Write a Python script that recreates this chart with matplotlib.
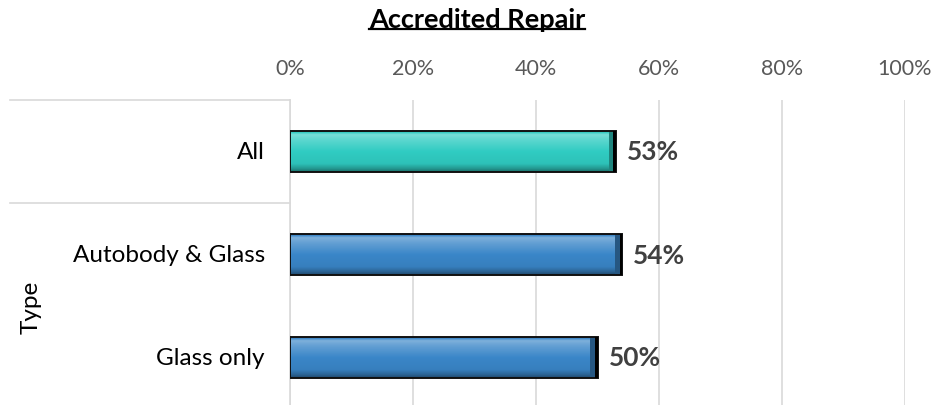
import numpy as np
import matplotlib
matplotlib.use("Agg")
import matplotlib.pyplot as plt
from matplotlib.colors import to_rgb
from matplotlib.lines import Line2D
from matplotlib.patches import Rectangle

plt.rcParams['font.family'] = ['Lato', 'DejaVu Sans']

# ---- data ----
categories = ["All", "Autobody & Glass", "Glass only"]
values = [0.53, 0.54, 0.50]
value_labels = ["53%", "54%", "50%"]
group_label = "Type"
title = "Accredited Repair"
xticks = [0, 0.2, 0.4, 0.6, 0.8, 1.0]
xticklabels = ["0%", "20%", "40%", "60%", "80%", "100%"]
bar_colors = ["#30ccc2", "#3a86c8"]  # All, types

W, H = 933, 406
fig = plt.figure(figsize=(W / 100, H / 100), dpi=100)
ax_left, ax_right, ax_top, ax_bot = 290, 905, 101, 410
ax = fig.add_axes([ax_left / W, 1 - ax_bot / H, (ax_right - ax_left) / W, (ax_bot - ax_top) / H])

ypos = np.arange(len(categories))
colors = [bar_colors[0]] + [bar_colors[1]] * (len(categories) - 1)
bars = ax.barh(ypos, values, height=0.39, color=colors, edgecolor="none", zorder=3)

def shade(c, f):
    r = np.array(to_rgb(c))
    if f >= 0:
        return r + (1 - r) * f
    return r * (1 + f)

for b, c in zip(bars, colors):
    x0, y0, w, h = b.get_x(), b.get_y(), b.get_width(), b.get_height()
    n = 60
    t = np.linspace(0, 1, n)
    prof = np.interp(t, [0, 0.08, 0.2, 0.5, 0.8, 0.92, 1.0],
                     [-0.15, 0.35, 0.22, 0.0, -0.05, -0.25, -0.45])
    grad = np.clip(np.array([shade(c, p) for p in prof]), 0, 1)
    img = np.repeat(grad[:, None, :], 2, axis=1)
    ax.imshow(img, extent=[x0, x0 + w, y0 + h, y0], aspect='auto',
              interpolation='bilinear', zorder=3.5)
    ew = 0.012
    ax.add_patch(Rectangle((x0 + w - ew, y0), ew, h, facecolor=shade(c, -0.35),
                           edgecolor='none', zorder=3.6))
    ax.add_patch(Rectangle((x0, y0), w, h, facecolor='none', edgecolor='#111111',
                           linewidth=1.4, zorder=4))
    ax.add_patch(Rectangle((x0 + w - 0.004, y0), 0.004, h, facecolor='#000000',
                           edgecolor='none', zorder=4.1))

for y, v, lab in zip(ypos, values, value_labels):
    ax.text(v + 0.018, y, lab, ha='left', va='center', fontsize=19,
            fontweight='bold', color='#404040', zorder=5)

ax.set_xlim(0, 1.0)
ax.set_ylim(len(categories) - 0.5, -0.5)
ax.xaxis.tick_top()
ax.set_xticks(xticks)
ax.set_xticklabels(xticklabels, fontsize=15.5, color='#595959')
ax.tick_params(axis='x', length=0, pad=16)
ax.set_yticks([])
ax.grid(axis='x', color='#d9d9d9', linewidth=1.2, zorder=0)
ax.set_axisbelow(True)
for s in ['top', 'right', 'bottom']:
    ax.spines[s].set_visible(False)
ax.spines['left'].set_color('#d9d9d9')
ax.spines['left'].set_linewidth(1.2)

trans = ax.get_yaxis_transform()
lab_x = -(ax_left - 265) / (ax_right - ax_left)
for y, c in zip(ypos, categories):
    ax.text(lab_x, y, c, transform=trans, ha='right', va='center', fontsize=17.5, color='#000000')

sep_x0 = -(ax_left - 10) / (ax_right - ax_left)
for yb in [-0.5, 0.5]:
    ax.add_line(Line2D([sep_x0, 0], [yb, yb], transform=trans, color='#d9d9d9',
                       linewidth=1.2, clip_on=False))

type_x = -(ax_left - 31) / (ax_right - ax_left)
ax.text(type_x, (1 + len(categories) - 1) / 2, group_label, transform=trans, rotation=90,
        ha='center', va='center', fontsize=17.5, color='#000000')

tt = fig.text(477 / W, 1 - 20 / H, title, ha='center', va='center', fontsize=19.5,
              fontweight='bold', color='#000000')
fig.canvas.draw()
bb = tt.get_window_extent(renderer=fig.canvas.get_renderer())
uy = bb.y0 + 2
fig.add_artist(Line2D([bb.x0 / W, bb.x1 / W], [uy / H, uy / H], transform=fig.transFigure,
                      color='#000000', linewidth=1.6))

fig.savefig("out.png", dpi=100)
